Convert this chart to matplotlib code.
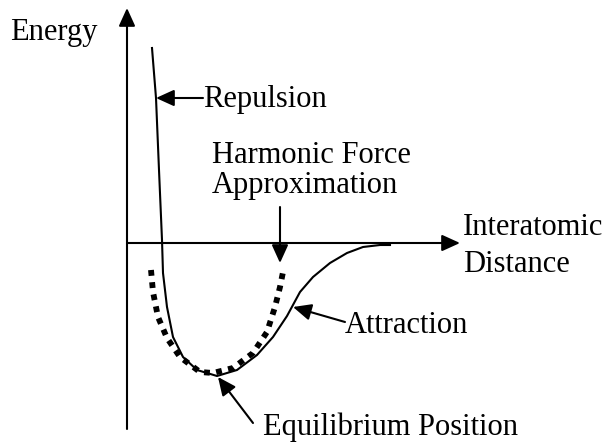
import matplotlib.pyplot as plt
from matplotlib.patches import FancyArrowPatch

# curve points (pixel-like units, y grows downward)
pot_x = [152, 156, 159, 162, 163, 167, 173, 183, 197, 217, 237, 257, 273, 287, 300, 313, 330, 347, 363, 380, 390]
pot_y = [48, 98, 170, 240, 273, 307, 337, 357, 370, 376, 370, 355, 337, 316, 292, 277, 263, 253, 247, 245, 245]

harm_x = [151, 153, 158, 167, 180, 200, 213, 233, 253, 267, 275, 280, 283]
harm_y = [270, 292, 317, 338, 357, 372, 373, 368, 353, 332, 307, 287, 272]

labels = ['Energy', 'Repulsion', 'Harmonic Force', 'Approximation',
          'Interatomic', 'Distance', 'Attraction', 'Equilibrium Position']
label_xy = [(10, 40), (203, 107), (212, 163), (212, 193),
            (463, 235), (463, 272), (345, 333), (263, 435)]

# pointer arrows: (tail, tip)
pointers = [((203, 98), (156, 98)),
            ((280, 207), (280, 263)),
            ((345, 322), (293, 307)),
            ((253, 423), (218, 377))]

plt.rcParams['font.family'] = ['Liberation Serif', 'DejaVu Serif']

fig = plt.figure(figsize=(6.12, 4.47), dpi=100)
ax = fig.add_axes([0, 0, 1, 1])
ax.set_xlim(0, 612)
ax.set_ylim(447, 0)
ax.axis('off')

head = '-|>,head_length=11,head_width=5'

# axes
for a, b in [((127, 429), (127, 8)), ((127, 243), (460, 243))]:
    ax.add_patch(FancyArrowPatch(a, b, arrowstyle=head, mutation_scale=1,
                                 color='black', lw=1.5, shrinkA=0, shrinkB=0))

ax.plot(pot_x, pot_y, color='black', lw=1.5, solid_joinstyle='round')
ax.plot(harm_x, harm_y, color='black', lw=4.2, linestyle=(0, (1, 1.1)),
        dash_capstyle='butt')

for a, b in pointers:
    ax.add_patch(FancyArrowPatch(a, b, arrowstyle=head, mutation_scale=1,
                                 color='black', lw=1.5, shrinkA=0, shrinkB=0))

for t, (x, y) in zip(labels, label_xy):
    ax.text(x, y, t, fontsize=22, ha='left', va='baseline')

fig.savefig('out.png', dpi=100)
